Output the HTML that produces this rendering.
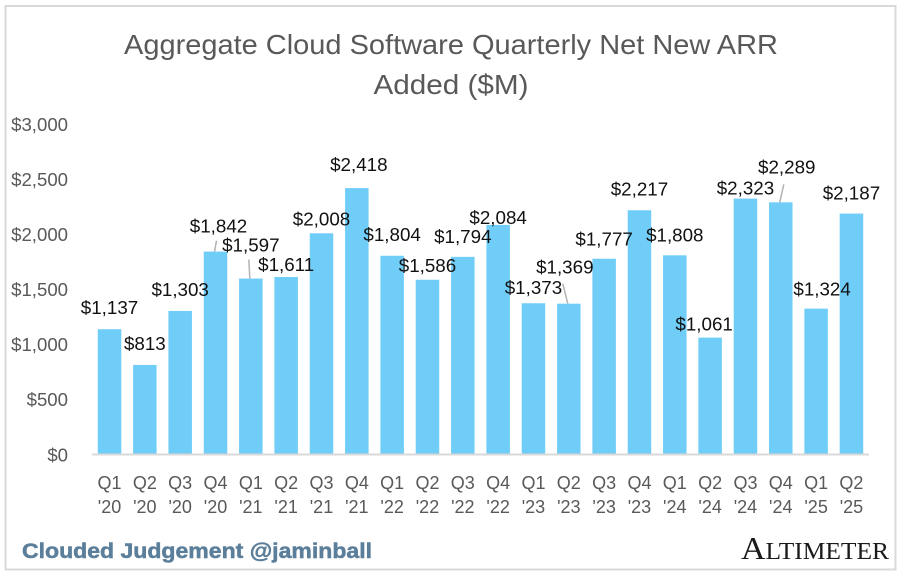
<!DOCTYPE html>
<html lang="en">
<head>
<meta charset="utf-8">
<title>Aggregate Cloud Software Quarterly Net New ARR Added ($M)</title>
<style>
html,body{margin:0;padding:0;background:#fff;width:898px;height:574px;overflow:hidden}
svg{display:block}
text{font-family:"Liberation Sans",sans-serif}
</style>
</head>
<body>
<svg id="chart" xmlns="http://www.w3.org/2000/svg" width="898" height="574" viewBox="0 0 898 574">
  <rect x="5.5" y="6" width="890" height="563.5" fill="#fff" stroke="#d9d9d9" stroke-width="2"/>
  <g fill="#595959" font-size="28" text-anchor="middle">
    <text x="451" y="54" textLength="654" lengthAdjust="spacingAndGlyphs">Aggregate Cloud Software Quarterly Net New ARR</text>
    <text x="451" y="94" textLength="155" lengthAdjust="spacingAndGlyphs">Added ($M)</text>
  </g>
  <g id="y-axis"></g>
  <g id="bars"></g>
  <line x1="92" y1="454.5" x2="869" y2="454.5" stroke="#d9d9d9" stroke-width="2"/>
  <g id="x-axis"></g>
  <g id="leaders"></g>
  <g id="labels"></g>
  <text x="22" y="558" font-size="21" font-weight="700" fill="#5b7f9b" stroke="#5b7f9b" stroke-width="0.5" textLength="350" lengthAdjust="spacingAndGlyphs">Clouded Judgement @jaminball</text>
  <text x="741" y="559" fill="#1a1a1a" textLength="148" lengthAdjust="spacingAndGlyphs" style="font-family:'Liberation Serif',serif"><tspan font-size="32">A</tspan><tspan font-size="24">LTIMETER</tspan></text>
</svg>
<script>
const quarters = ["Q1","Q2","Q3","Q4","Q1","Q2","Q3","Q4","Q1","Q2","Q3","Q4","Q1","Q2","Q3","Q4","Q1","Q2","Q3","Q4","Q1","Q2"];
const years = ["'20","'20","'20","'20","'21","'21","'21","'21","'22","'22","'22","'22","'23","'23","'23","'23","'24","'24","'24","'24","'25","'25"];
const netNewArr = [1137,813,1303,1842,1597,1611,2008,2418,1804,1586,1794,2084,1373,1369,1777,2217,1808,1061,2323,2289,1324,2187];
const yTicks = [0,500,1000,1500,2000,2500,3000];

// Hand placement of the data labels relative to each bar top, as in the source chart.
const labelShiftX = [0,0,0,3,0,0,0,2,0,0,0,0,0,-4,0,0,0,-6,0,6,6,0];
const labelShiftY = [-15,-15,-15,-19,-27,-6,-8,-17,-15,-8,-14,-1,-9,-30,-13,-15,-14,-7,-4,-29,-13,-14];
const leaderBars = [3,4,13,19];
const leaderTipX = [2,-1,-5,4];
const leaderTipY = [-11,-19,-20,-18];

const NS = "http://www.w3.org/2000/svg";
const plotLeft = 91.85, band = 35.33, barWidth = 23.5;
const y0 = 454.5, yScale = 330.5 / 3000;
const xCenter = i => plotLeft + band * (i + 0.5);
const yPos = v => y0 - v * yScale;
const money = v => "$" + v.toLocaleString("en-US");

function make(tag, parent, props, text) {
  const el = document.createElementNS(NS, tag);
  for (const k in props) el.setAttribute(k, props[k]);
  if (text !== undefined) el.textContent = text;
  parent.appendChild(el);
  return el;
}

const yAxis = document.getElementById("y-axis");
yTicks.forEach(t => {
  const el = make("text", yAxis, {x: 68, y: yPos(t) + 6.8, "text-anchor": "end", "font-size": 18.6, fill: "#595959"}, money(t));
  
  
});

const barsG = document.getElementById("bars");
const xG = document.getElementById("x-axis");
const labelsG = document.getElementById("labels");
netNewArr.forEach((v, i) => {
  const cx = xCenter(i), top = yPos(v);
  const bar = make("rect", barsG, {x: cx - barWidth / 2, y: top, width: barWidth, height: y0 - top, fill: "#6fcdf7"});
  
  

  const q = make("text", xG, {x: cx, y: 489, "text-anchor": "middle", "font-size": 18, fill: "#595959"}, quarters[i]);
  
  
  const yr = make("text", xG, {x: cx, y: 513, "text-anchor": "middle", "font-size": 18, fill: "#595959"}, years[i]);
  
  

  const lab = make("text", labelsG, {x: cx + labelShiftX[i], y: top + labelShiftY[i], "text-anchor": "middle", "font-size": 18.8, fill: "#111"}, money(v));
  
  
});

const leadersG = document.getElementById("leaders");
leaderBars.forEach((b, n) => {
  const cx = xCenter(b), top = yPos(netNewArr[b]);
  const line = make("line", leadersG, {x1: cx - 1, y1: top, x2: cx - 1 + leaderTipX[n], y2: top + leaderTipY[n], stroke: "#b3b3b3", "stroke-width": 1.5});
  
  
});
</script>
</body>
</html>
